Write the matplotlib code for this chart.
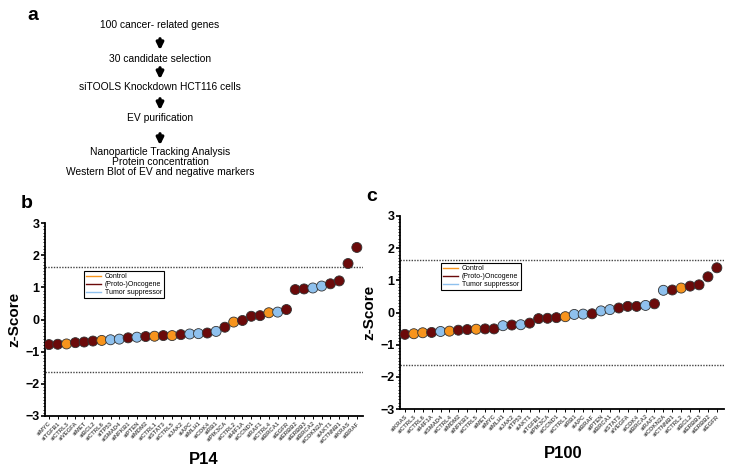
import matplotlib
matplotlib.use("Agg")
import matplotlib.pyplot as plt
from matplotlib.lines import Line2D
from matplotlib.patches import FancyArrowPatch
from matplotlib.ticker import MultipleLocator

plt.rcParams['font.family'] = ['Liberation Sans', 'DejaVu Sans']

# flowchart steps (panel a)
steps = [
    "100 cancer- related genes",
    "30 candidate selection",
    "siTOOLS Knockdown HCT116 cells",
    "EV purification",
    "Nanoparticle Tracking Analysis\nProtein concentration\nWestern Blot of EV and negative markers",
]

# gene classes
oncogenes = ["MYC", "KRAS", "BRAF", "EGFR", "ERBB2", "ERBB3", "MET", "VEGFA", "HIF1A",
             "BCL2", "AKT1", "PIK3CA", "CTNNB1", "MDM2", "NFKB1", "JAK2", "STAT3",
             "CCND1", "CDK4", "TGFB1", "RAF1"]
suppressors = ["TP53", "PTEN", "APC", "RB1", "SMAD4", "CDKN2A", "BRCA1", "BRCA2", "MLH1"]
controls = ["CTRL1", "CTRL2", "CTRL3", "CTRL4", "CTRL5", "CTRL6"]

# P14 (panel b)
p14_genes = ["MYC", "TGFB1", "CTRL3", "VEGFA", "MET", "BCL2", "CTRL6", "TP53", "SMAD4",
             "NFKB1", "PTEN", "MDM2", "CTRL1", "STAT3", "CTRL5", "JAK2", "APC", "MLH1",
             "CDK4", "RB1", "PIK3CA", "CTRL2", "HIF1A", "CCND1", "RAF1", "CTRL4", "BRCA1",
             "EGFR", "ERBB2", "ERBB3", "BRCA2", "CDKN2A", "AKT1", "CTNNB1", "KRAS", "BRAF"]
p14_z = [-0.78, -0.77, -0.76, -0.72, -0.70, -0.67, -0.65, -0.63, -0.61, -0.57, -0.55,
         -0.53, -0.52, -0.50, -0.50, -0.47, -0.45, -0.44, -0.42, -0.37, -0.24, -0.08,
         -0.03, 0.10, 0.12, 0.21, 0.23, 0.31, 0.93, 0.95, 0.98, 1.04, 1.11, 1.20,
         1.74, 2.24]

# P100 (panel c)
p100_genes = ["KRAS", "CTRL3", "CTRL6", "HIF1A", "SMAD4", "CTRL4", "MDM2", "NFKB1", "CTRL5",
              "MET", "MYC", "MLH1", "JAK2", "TP53", "AKT1", "TGFB1", "PIK3CA", "CCND1",
              "CTRL1", "RB1", "APC", "BRAF", "PTEN", "BRCA1", "STAT3", "VEGFA", "CDK4",
              "BRCA2", "RAF1", "CDKN2A", "CTNNB1", "CTRL2", "BCL2", "ERBB3", "ERBB2", "EGFR"]
p100_z = [-0.68, -0.66, -0.63, -0.62, -0.59, -0.58, -0.55, -0.53, -0.52, -0.51, -0.51,
          -0.41, -0.39, -0.38, -0.33, -0.19, -0.18, -0.16, -0.13, -0.06, -0.05, -0.04,
          0.05, 0.09, 0.14, 0.19, 0.19, 0.22, 0.27, 0.69, 0.70, 0.76, 0.82, 0.86,
          1.11, 1.39]

threshold = 1.645
col_ctrl = "#f7941d"
col_onco = "#6b0a0a"
col_supp = "#8fc1ee"


def gene_color(g):
    if g in controls:
        return col_ctrl
    if g in suppressors:
        return col_supp
    return col_onco


fig = plt.figure(figsize=(7.34, 4.68), dpi=100)

# panel a: flowchart
fig.text(33 / 734, 1 - 16 / 468, "a", fontsize=14, fontweight="bold", ha="center", va="center")
ys = [25, 59, 87, 118, 162]
for s, y in zip(steps, ys):
    fig.text(160 / 734, 1 - y / 468, s, fontsize=7.4, ha="center", va="center",
             linespacing=0.95)
arrows = [(36, 53), (65, 82), (96, 113), (131, 148)]
for y0, y1 in arrows:
    fig.add_artist(FancyArrowPatch((160 / 734, 1 - y0 / 468), (160 / 734, 1 - y1 / 468),
                                   transform=fig.transFigure, arrowstyle="-|>",
                                   mutation_scale=10, lw=2.4, color="black"))


def draw_panel(rect, genes, z, title, title_xy, letter, letter_xy, leg_xy, xlim):
    ax = fig.add_axes(rect)
    x = list(range(len(genes)))
    ax.axhline(threshold, color="#444444", lw=1.0, ls=(0, (1, 1)), zorder=1)
    ax.axhline(-threshold, color="#444444", lw=1.0, ls=(0, (1, 1)), zorder=1)
    ax.scatter(x, z, s=52, c=[gene_color(g) for g in genes], edgecolors="#333333",
               linewidths=0.6, zorder=3)
    ax.set_ylim(-3, 3)
    ax.set_xlim(*xlim)
    ax.yaxis.set_major_locator(MultipleLocator(1))
    ax.yaxis.set_minor_locator(MultipleLocator(0.1))
    ax.set_xticks(x)
    ax.set_xticklabels(["si" + g for g in genes], rotation=45, ha="right",
                       rotation_mode="anchor", fontsize=4.2, color="#555555",
                       fontweight="bold")
    for s in ["top", "right"]:
        ax.spines[s].set_visible(False)
    for s in ["left", "bottom"]:
        ax.spines[s].set_linewidth(1.3)
    ax.tick_params(axis="y", which="major", length=3, width=1.2, labelsize=9, pad=1)
    ax.tick_params(axis="y", which="minor", length=1.5, width=0.6)
    ax.tick_params(axis="x", length=2.5, width=0.7, pad=1)
    for lab in ax.get_yticklabels():
        lab.set_fontweight("bold")
    ax.set_ylabel("z-Score", fontsize=11, fontweight="bold", labelpad=3)
    fig.text(title_xy[0] / 734, 1 - title_xy[1] / 468, title, fontsize=12,
             fontweight="bold", ha="center", va="center")
    handles = [Line2D([], [], color=col_ctrl, lw=1),
               Line2D([], [], color=col_onco, lw=1),
               Line2D([], [], color=col_supp, lw=1)]
    ax.legend(handles, ["Control", "(Proto-)Oncogene", "Tumor suppressor"],
              loc="upper left", bbox_to_anchor=leg_xy, bbox_transform=fig.transFigure,
              fontsize=5, frameon=True, fancybox=False, edgecolor="black",
              framealpha=1, borderpad=0.3, handlelength=2.2, handletextpad=0.5,
              labelspacing=0.15, borderaxespad=0)
    ax.get_legend().get_frame().set_linewidth(0.8)
    fig.text(letter_xy[0] / 734, 1 - letter_xy[1] / 468, letter, fontsize=14,
             fontweight="bold", ha="center", va="center")
    return ax


draw_panel([45 / 734, 1 - 416 / 468, 318 / 734, 193 / 468], p14_genes, p14_z, "P14",
           (204, 459), "b", (27, 203), (84 / 734, 1 - 271 / 468), (-0.45, 35.7))
draw_panel([400 / 734, 1 - 409 / 468, 324 / 734, 193 / 468], p100_genes, p100_z, "P100",
           (563, 454), "c", (372, 196), (441 / 734, 1 - 263 / 468), (-0.55, 35.8))

fig.savefig("out.png", dpi=100)
